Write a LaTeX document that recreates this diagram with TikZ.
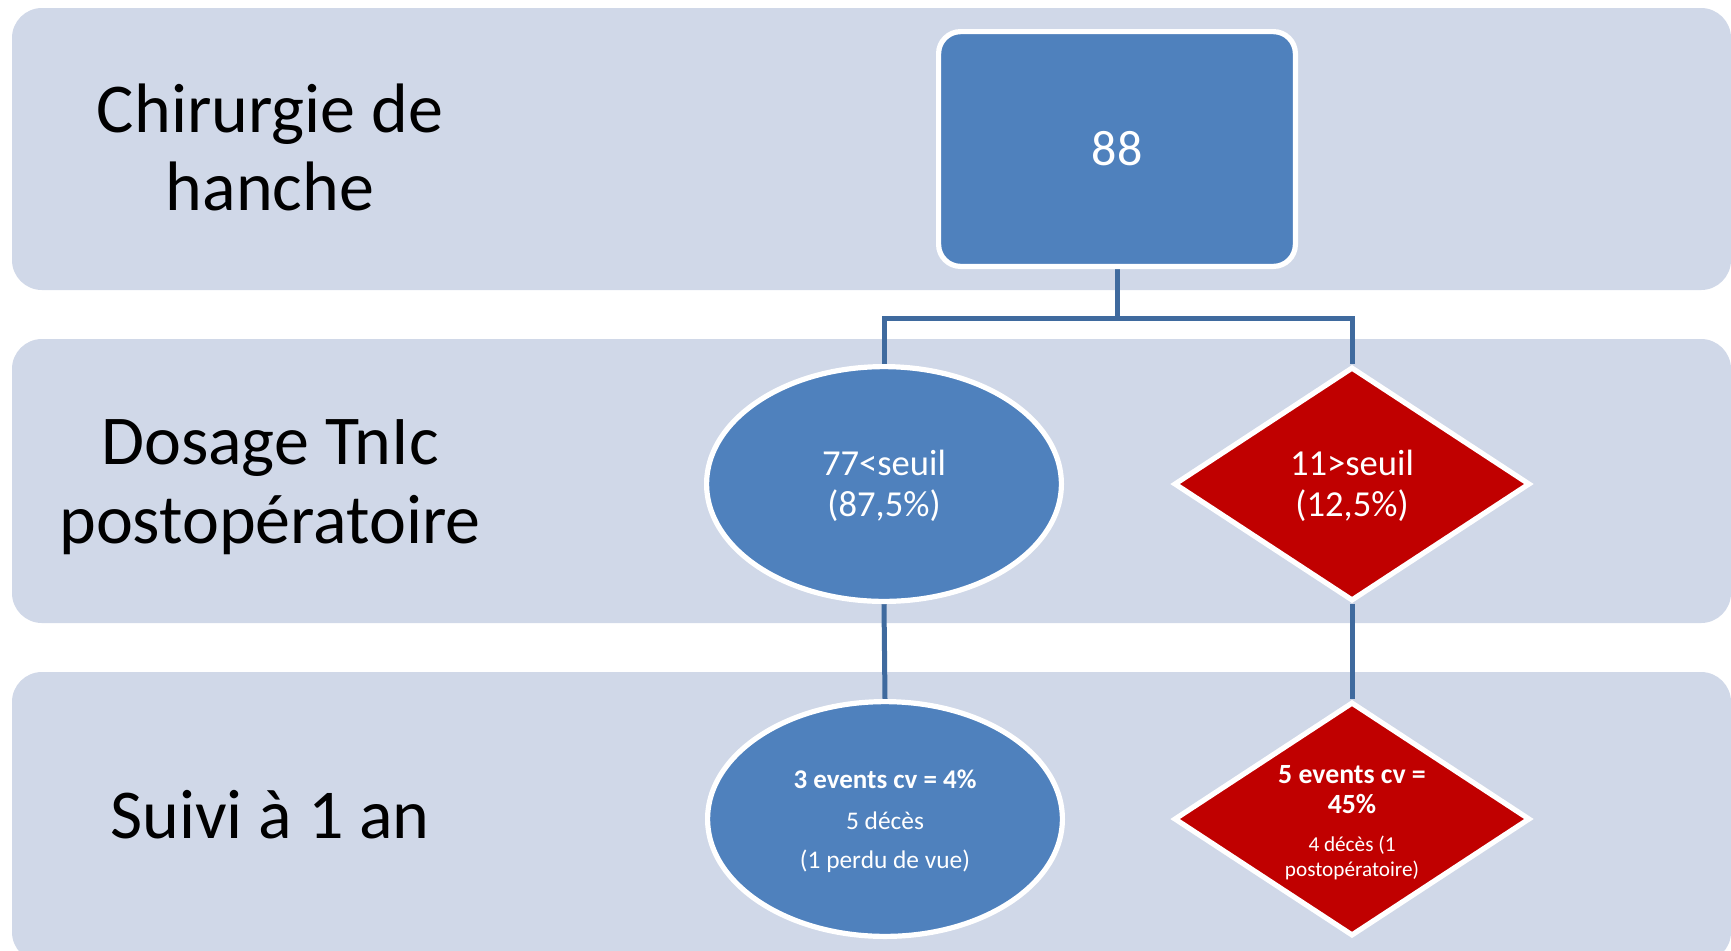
\documentclass[tikz,border=0pt]{standalone}
\usepackage{fontspec}
\setmainfont{Carlito}
\usetikzlibrary{shapes.geometric}
\definecolor{bandfill}{HTML}{D0D8E8}
\definecolor{nodeblue}{HTML}{4F81BD}
\definecolor{nodered}{HTML}{C00000}
\definecolor{connblue}{HTML}{3F6A9E}
\pgfdeclarelayer{bands}
\pgfdeclarelayer{conns}
\pgfsetlayers{bands,conns,main}
\tikzset{
  band/.style={fill=bandfill, draw=none, rounded corners=15pt},
  bandlabel/.style={text=black, align=center, inner sep=0pt},
  shapebase/.style={draw=white, line width=2.6pt, inner sep=0pt},
  bluebox/.style={shapebase, fill=nodeblue, rectangle, rounded corners=11pt,
                  minimum width=178.4pt, minimum height=117.4pt},
  blueell/.style={shapebase, fill=nodeblue, ellipse,
                  minimum width=177.4pt, minimum height=117.4pt},
  reddiam/.style={shapebase, fill=nodered, diamond,
                  minimum width=178pt, minimum height=117pt},
  intext/.style={text=white, align=center, inner sep=0pt},
  conn/.style={draw=connblue, line width=2.5pt}
}
\begin{document}
\begin{tikzpicture}[x=0.5pt,y=-0.5pt]
\useasboundingbox (0,0) rectangle (1731,950);
\clip (0,0) rectangle (1731,950);
% bands
\begin{pgfonlayer}{bands}
\fill[white] (0,0) rectangle (1731,950);
\path[band] (12,8) rectangle (1731,290);
\path[band] (12,339) rectangle (1731,623);
\path[band] (12,672) rectangle (1731,962);
\end{pgfonlayer}
% band labels
\node[bandlabel, font=\fontsize{35}{39}\selectfont] (lab1) at (270,147) {Chirurgie de\\hanche};
\node[bandlabel, font=\fontsize{35}{39.5}\selectfont] (lab2) at (270,487) {Dosage TnIc\\postopératoire};
\node[bandlabel, font=\fontsize{35}{39}\selectfont] (lab3) at (270,815) {Suivi à 1 an};
% shapes
\node[bluebox] (box) at (1117,149) {};
\node[blueell] (e1) at (884,484) {};
\node[reddiam] (d1) at (1352,484) {};
\node[blueell] (e2) at (885,819) {};
\node[reddiam] (d2) at (1352,819) {};
% texts
\node[intext, font=\fontsize{25}{30}\selectfont] (t88) at (box.center) {88};
\node[intext, font=\fontsize{18.3}{20.5}\selectfont] (te1) at (884,486) {77<seuil\\(87,5\%)};
\node[intext, font=\fontsize{18.3}{20.5}\selectfont] (td1) at (1352,486) {11>seuil\\(12,5\%)};
\node[intext, font=\fontsize{12.7}{19.5}\selectfont] (te2) at (885,821)
  {\bfseries\fontsize{13.5}{19.5}\selectfont 3 events cv = 4\%\\[1pt]5 décès\\(1 perdu de vue)};
\node[intext, font=\fontsize{13.9}{15}\selectfont] (td2) at (1352,823)
  {\bfseries 5 events cv =\\\bfseries 45\%\\[4pt]\fontsize{10.6}{12.5}\selectfont 4 décès (1\\[-2.5pt]\fontsize{10.6}{12.5}\selectfont postopératoire)};
% connectors
\coordinate (split) at (1117,318);
\begin{pgfonlayer}{conns}
\draw[conn] (box.south) -- (split);
\draw[conn] (e1.north) |- (split) -| (d1.north);
\draw[conn] (e1.south) -- (e2.north);
\draw[conn] (d1.south) -- (d2.north);
\end{pgfonlayer}
\end{tikzpicture}
\end{document}
